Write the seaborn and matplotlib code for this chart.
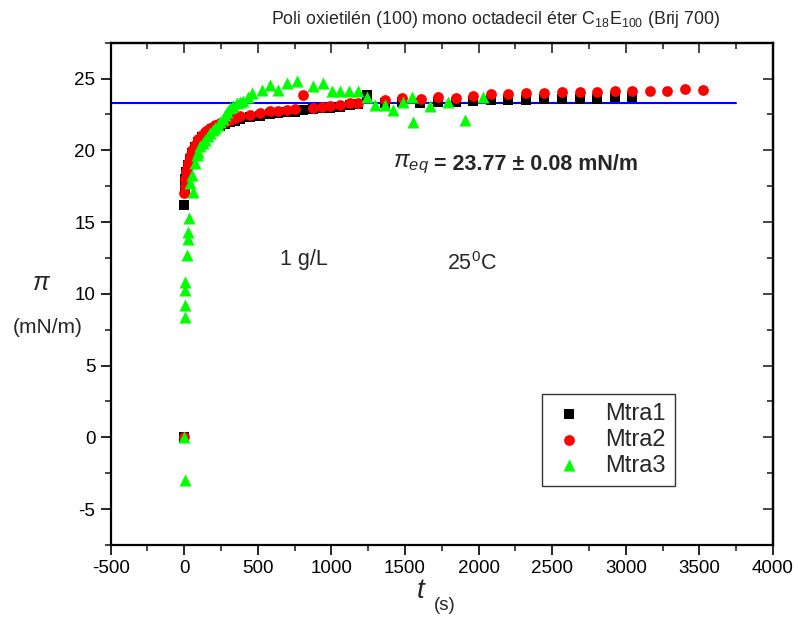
import numpy as np
import pandas as pd
import matplotlib
matplotlib.use("Agg")
import matplotlib.pyplot as plt
import seaborn as sns
from matplotlib.ticker import MultipleLocator

# ---------------- data ----------------
t1 = [0, 0, 3, 8, 15, 25, 39, 55, 73, 95, 118, 145, 175, 210, 243, 276, 311, 345,
      378, 446, 514, 582, 639, 696, 752, 809, 877, 933, 990, 1058, 1126, 1182,
      1239, 1363, 1479, 1602, 1722, 1846, 1961, 2081, 2199, 2322, 2441, 2564,
      2688, 2804, 2927, 3041]
pi1 = [0.0, 16.2, 17.3, 18.0, 18.5, 19.0, 19.4, 19.8, 20.2, 20.6, 20.9, 21.15,
       21.35, 21.55, 21.7, 21.85, 21.95, 22.05, 22.15, 22.3, 22.42, 22.52, 22.58,
       22.65, 22.7, 22.82, 22.85, 22.92, 22.98, 23.05, 23.15, 23.2, 23.87, 23.3,
       23.35, 23.3, 23.38, 23.35, 23.45, 23.5, 23.5, 23.52, 23.55, 23.6, 23.6,
       23.6, 23.7, 23.7]

t2 = [0, 0, 2, 5, 10, 16, 25, 39, 55, 73, 95, 118, 145, 175, 210, 243, 276, 311,
      345, 378, 446, 514, 582, 639, 696, 752, 809, 877, 933, 990, 1058, 1126,
      1182, 1363, 1479, 1606, 1722, 1846, 1961, 2081, 2199, 2322, 2441, 2564,
      2688, 2804, 2927, 3042, 3164, 3279, 3402, 3522]
pi2 = [0.0, 17.0, 17.5, 18.0, 18.5, 18.7, 19.1, 19.6, 20.0, 20.4, 20.8, 21.1,
       21.35, 21.55, 21.75, 21.9, 22.0, 22.13, 22.25, 22.36, 22.48, 22.59, 22.71,
       22.74, 22.82, 22.87, 23.87, 22.94, 23.05, 23.1, 23.17, 23.29, 23.33, 23.52,
       23.62, 23.6, 23.71, 23.68, 23.8, 23.94, 23.94, 23.99, 23.99, 24.06, 24.06,
       24.06, 24.15, 24.15, 24.1, 24.1, 24.27, 24.2]

t3 = [0, 5, 4, 5, 6, 8, 16, 24, 27, 34, 60, 39, 50, 73, 84, 95, 107, 124, 141,
      158, 175, 192, 209, 226, 243, 260, 276, 293, 310, 333, 356, 378, 401, 430,
      458, 526, 582, 639, 696, 764, 877, 940, 1001, 1058, 1121, 1182, 1239, 1296,
      1363, 1420, 1488, 1545, 1551, 1669, 1789, 1907, 2027]
pi3 = [0.0, -3.0, 8.4, 9.2, 10.3, 10.85, 12.7, 13.8, 14.3, 15.3, 17.1, 17.7,
       18.3, 19.1, 19.7, 19.9, 20.3, 20.5, 20.7, 21.0, 21.2, 21.4, 21.55, 21.8,
       22.0, 22.2, 22.45, 22.7, 22.95, 23.1, 23.3, 23.35, 23.45, 23.7, 24.0, 24.2,
       24.55, 24.2, 24.7, 24.8, 24.45, 24.7, 24.1, 24.1, 24.1, 24.1, 23.75, 23.15,
       23.15, 22.8, 23.4, 23.75, 22.0, 23.1, 23.4, 22.1, 23.75]

series_names = ["Mtra1", "Mtra2", "Mtra3"]
pi_line = 23.33          # blue horizontal reference line
line_t = [-500, 3750]

xticks = [-500, 0, 500, 1000, 1500, 2000, 2500, 3000, 3500, 4000]
yticks = [-5, 0, 5, 10, 15, 20, 25]

# ---------------- style ----------------
sns.set_style("ticks")
plt.rcParams['font.family'] = ['Liberation Sans', 'DejaVu Sans']
plt.rcParams['axes.unicode_minus'] = False
plt.rcParams['mathtext.fontset'] = 'custom'
plt.rcParams['mathtext.rm'] = 'Liberation Sans'
plt.rcParams['mathtext.it'] = 'Liberation Sans:italic'
plt.rcParams['mathtext.bf'] = 'Liberation Sans:bold'

fig = plt.figure(figsize=(7.98, 6.22), dpi=100)
ax = fig.add_axes([110.7 / 798, 1 - 545 / 622, (773 - 110.7) / 798, (545 - 42.7) / 622])

df = pd.concat([
    pd.DataFrame({"t": t1, "pi": pi1, "s": series_names[0]}),
    pd.DataFrame({"t": t2, "pi": pi2, "s": series_names[1]}),
    pd.DataFrame({"t": t3, "pi": pi3, "s": series_names[2]}),
], ignore_index=True)

colors = {"Mtra1": "#000000", "Mtra2": "#ff0000", "Mtra3": "#00ff00"}
markers = {"Mtra1": "s", "Mtra2": "o", "Mtra3": "^"}
sizes = {"Mtra1": 42, "Mtra2": 60, "Mtra3": 75}

for name in series_names:
    sub = df[df["s"] == name]
    sns.scatterplot(data=sub, x="t", y="pi", ax=ax, color=colors[name],
                    marker=markers[name], s=sizes[name], linewidth=0,
                    label=name, zorder=3)

sns.lineplot(x=line_t, y=[pi_line, pi_line], ax=ax, color="#0000ff", lw=1.5,
             legend=False, zorder=2)

ax.set_xlim(-500, 4000)
ax.set_ylim(-7.5, 27.5)
ax.set_xticks(xticks)
ax.set_yticks(yticks)
ax.xaxis.set_minor_locator(MultipleLocator(250))
ax.yaxis.set_minor_locator(MultipleLocator(2.5))
ax.set_xlabel("")
ax.set_ylabel("")
for sp in ax.spines.values():
    sp.set_linewidth(1.6)
    sp.set_color("black")
ax.tick_params(which="major", direction="out", length=7, width=1.2,
               labelsize=13.5, colors="black", pad=4)
ax.tick_params(which="minor", direction="out", length=4, width=1.2)

sec_x = ax.secondary_xaxis("top")
sec_x.set_xticks(xticks)
sec_x.xaxis.set_minor_locator(MultipleLocator(250))
sec_x.tick_params(which="major", direction="in", length=7, width=1.2, labeltop=False)
sec_x.tick_params(which="minor", direction="in", length=4, width=1.2)
sec_x.spines["top"].set_linewidth(1.6)
sec_y = ax.secondary_yaxis("right")
sec_y.set_yticks(yticks)
sec_y.yaxis.set_minor_locator(MultipleLocator(2.5))
sec_y.tick_params(which="major", direction="in", length=7, width=1.2, labelright=False)
sec_y.tick_params(which="minor", direction="in", length=4, width=1.2)
sec_y.spines["right"].set_linewidth(1.6)

leg = ax.legend(loc="upper left", bbox_to_anchor=(0.6508, 0.3006),
                borderaxespad=0, fontsize=17, frameon=True, fancybox=False,
                edgecolor="black", handletextpad=0.8, borderpad=0.4,
                labelspacing=0.15, handlelength=1.5)
leg.get_frame().set_linewidth(1.0)

# annotations
ax.text(650, 12.37, "1 g/L", fontsize=15.5, va="center", ha="left")
ax.text(1785, 12.1, "25$^{0}$C", fontsize=15.5, va="center", ha="left")
ax.text(1420, 19.0, r"$\pi_{eq}$", fontsize=17, va="center", ha="left")
ax.text(1700, 19.0, "= 23.77 \u00b1 0.08 mN/m", fontsize=15.5, fontweight="bold",
        va="center", ha="left")

fig.text(496 / 798, 1 - 20 / 622, "Poli oxietilén (100) mono octadecil éter C$_{18}$E$_{100}$ (Brij 700)",
         fontsize=12.8, ha="center", va="center")
fig.text(42 / 798, 1 - 283 / 622, r"$\pi$", fontsize=18, ha="center", va="center")
fig.text(48 / 798, 1 - 328 / 622, "(mN/m)", fontsize=15, ha="center", va="center")
fig.text(421 / 798, 1 - 591 / 622, r"$t$", fontsize=20, ha="center", va="center")
fig.text(445 / 798, 1 - 606 / 622, "(s)", fontsize=13.5, ha="center", va="center")

fig.savefig("out.png", dpi=100, facecolor="white")
